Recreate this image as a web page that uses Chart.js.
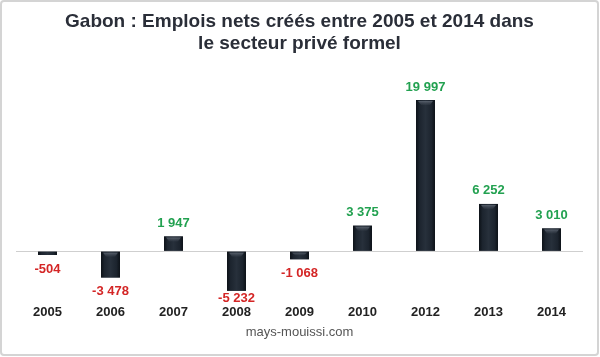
<!DOCTYPE html>
<html><head><meta charset="utf-8">
<script src="https://cdn.jsdelivr.net/npm/chart.js@4"></script>
<style>html,body{margin:0;padding:0;background:#fff}</style>
</head><body>
<canvas id="c" width="600" height="357"></canvas>
<script>
const categories = ['2005','2006','2007','2008','2009','2010','2012','2013','2014'];
const jobsCreated = [-504, -3478, 1947, -5232, -1068, 3375, 19997, 6252, 3010];
const titleLines = ['Gabon : Emplois nets créés entre 2005 et 2014 dans', 'le secteur privé formel'];
const sourceText = 'mays-mouissi.com';

const FONT = 'Arial, "Liberation Sans", sans-serif';
function fmt(v){
  const s = Math.abs(v).toString().replace(/\B(?=(\d{3})+(?!\d))/g, ' ');
  return (v < 0 ? '-' : '') + s;
}

const framePlugin = {
  id: 'frame',
  beforeDraw(chart){
    const c = chart.ctx;
    c.save();
    c.fillStyle = '#fff';
    c.fillRect(0, 0, chart.width, chart.height);
    c.strokeStyle = '#d4d4d4';
    c.lineWidth = 2;
    c.beginPath();
    if (c.roundRect) c.roundRect(1, 1, chart.width - 3, chart.height - 3, 3);
    else c.rect(1, 1, chart.width - 3, chart.height - 3);
    c.stroke();
    c.restore();
  }
};

const barStylePlugin = {
  id: 'barStyle',
  afterDatasetsDraw(chart){
    const c = chart.ctx;
    const meta = chart.getDatasetMeta(0);
    c.save();
    meta.data.forEach(el => {
      const p = el.getProps(['x','y','base','width'], true);
      const left = p.x - p.width / 2, right = p.x + p.width / 2;
      const top = Math.min(p.y, p.base), bottom = Math.max(p.y, p.base);
      const h = bottom - top;
      const g = c.createLinearGradient(left, 0, right, 0);
      g.addColorStop(0, '#0c1117');
      g.addColorStop(0.18, '#1c242e');
      g.addColorStop(0.5, '#27303b');
      g.addColorStop(0.82, '#1c242e');
      g.addColorStop(1, '#0c1117');
      c.fillStyle = g;
      c.fillRect(left, top, right - left, h);
      if (h > 5) {
        const bh = Math.min(4, h / 3);
        const bg = c.createLinearGradient(0, top, 0, top + bh + 1);
        bg.addColorStop(0, 'rgba(120,128,140,0.85)');
        bg.addColorStop(1, 'rgba(70,78,90,0.2)');
        c.fillStyle = bg;
        c.beginPath();
        c.moveTo(left + 2, top + 1);
        c.lineTo(right - 2, top + 1);
        c.lineTo(right - 5, top + 1 + bh);
        c.lineTo(left + 5, top + 1 + bh);
        c.closePath();
        c.fill();
      }
    });
    c.restore();
  }
};

const valueLabelPlugin = {
  id: 'valueLabels',
  afterDatasetsDraw(chart){
    const c = chart.ctx;
    const meta = chart.getDatasetMeta(0);
    const area = chart.chartArea;
    c.save();
    c.font = 'bold 13px ' + FONT;
    c.textAlign = 'center';
    c.textBaseline = 'middle';
    meta.data.forEach((el, i) => {
      const v = jobsCreated[i];
      const p = el.getProps(['x','y','base'], true);
      let ty;
      if (v >= 0) {
        c.fillStyle = '#22a150';
        ty = p.y - 13;
      } else {
        c.fillStyle = '#d42626';
        ty = Math.min(p.y + 14, area.bottom - 2);
      }
      c.fillText(fmt(v), p.x, ty);
    });
    c.restore();
  }
};

new Chart(document.getElementById('c'), {
  type: 'bar',
  data: {
    labels: categories,
    datasets: [{
      data: jobsCreated,
      backgroundColor: '#1d2530',
      borderWidth: 0,
      barPercentage: 0.3,
      categoryPercentage: 1.0
    }]
  },
  options: {
    responsive: false,
    animation: false,
    devicePixelRatio: 1,
    layout: { padding: { left: 16, right: 17, top: 0, bottom: 0 } },
    plugins: {
      legend: { display: false },
      tooltip: { enabled: false },
      title: {
        display: true,
        text: titleLines,
        color: '#2a2e38',
        font: { family: FONT, size: 19, weight: 'bold', lineHeight: 22/19 },
        padding: { top: 10.5, bottom: 30.4 }
      },
      subtitle: {
        display: true,
        position: 'bottom',
        text: sourceText,
        color: '#555555',
        font: { family: FONT, size: 13, weight: 'normal' },
        padding: { top: 0.5, bottom: 17 }
      }
    },
    scales: {
      x: {
        grid: { display: false, drawTicks: false },
        border: { display: false },
        ticks: {
          color: '#222222',
          padding: 4,
          font: { family: FONT, size: 13, weight: 'bold' },
          maxRotation: 0,
          autoSkip: false
        }
      },
      y: {
        min: -6500,
        max: 22000,
        grid: {
          drawTicks: false,
          color: ctx => (ctx.tick && ctx.tick.value === 0) ? '#cfcfcf' : 'rgba(0,0,0,0)',
          lineWidth: 1
        },
        border: { display: false },
        ticks: { display: false, stepSize: 500 }
      }
    }
  },
  plugins: [framePlugin, barStylePlugin, valueLabelPlugin]
});
</script>
</body></html>
